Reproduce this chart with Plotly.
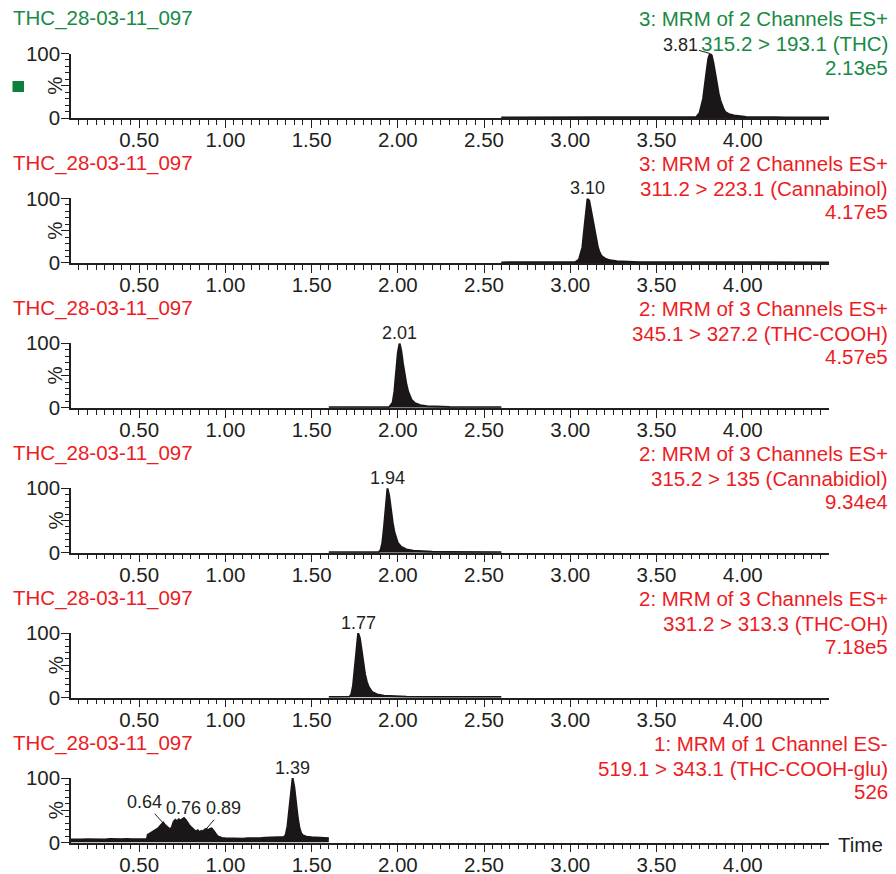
import plotly.graph_objects as go

# ---------------- data ----------------
sample_name = "THC_28-03-11_097"
function_headers = [
    "3: MRM of 2 Channels ES+",
    "3: MRM of 2 Channels ES+",
    "2: MRM of 3 Channels ES+",
    "2: MRM of 3 Channels ES+",
    "2: MRM of 3 Channels ES+",
    "1: MRM of 1 Channel ES-",
]
transitions = [
    "315.2 > 193.1 (THC)",
    "311.2 > 223.1 (Cannabinol)",
    "345.1 > 327.2 (THC-COOH)",
    "315.2 > 135 (Cannabidiol)",
    "331.2 > 313.3 (THC-OH)",
    "519.1 > 343.1 (THC-COOH-glu)",
]
max_intensity = ["2.13e5", "4.17e5", "4.57e5", "9.34e4", "7.18e5", "526"]

x_tick_values = [0.25, 0.50, 0.75, 1.00, 1.25, 1.50, 1.75, 2.00, 2.25, 2.50,
                 2.75, 3.00, 3.25, 3.50, 3.75, 4.00, 4.25]
x_tick_labels = ["", "0.50", "", "1.00", "", "1.50", "", "2.00", "", "2.50",
                 "", "3.00", "", "3.50", "", "4.00", ""]
y_tick_values = [0, 50, 100]
y_tick_labels = ["0", "", "100"]

# THC (panel 1)
thc_time = [2.60, 3.00, 3.50, 3.70, 3.73, 3.75, 3.77, 3.79, 3.80, 3.81, 3.82, 3.83,
            3.84, 3.85, 3.86, 3.87, 3.88, 3.89, 3.90, 3.92, 3.95, 3.98, 4.02, 4.08,
            4.12, 4.15, 4.18, 4.25, 4.50]
thc_pct = [0.8, 0.8, 0.9, 1.0, 1.5, 8, 30, 72, 92, 100, 97, 85,
           68, 52, 38, 27, 19, 13, 9, 6, 4, 2.5, 1.6, 1.1,
           1.3, 1.9, 1.1, 0.9, 0.8]

# Cannabinol (panel 2)
cbn_time = [2.60, 3.00, 3.03, 3.05, 3.07, 3.08, 3.09, 3.10, 3.11, 3.12, 3.13, 3.14,
            3.15, 3.16, 3.17, 3.18, 3.20, 3.23, 3.27, 3.32, 3.40, 3.60, 4.50]
cbn_pct = [0.8, 0.9, 1.2, 5, 24, 50, 82, 100, 96, 82, 64, 48,
           35, 24, 16, 11, 7, 4, 2.5, 1.6, 1.1, 0.9, 0.8]

# THC-COOH (panel 3)
cooh_time = [1.60, 1.90, 1.95, 1.97, 1.98, 1.99, 2.00, 2.01, 2.02, 2.03, 2.04, 2.05,
             2.06, 2.07, 2.08, 2.10, 2.13, 2.17, 2.22, 2.30, 2.40, 2.60]
cooh_pct = [0.8, 0.9, 1.2, 8, 25, 55, 85, 100, 88, 68, 50, 36,
            25, 17, 12, 7, 4, 2.5, 1.6, 1.2, 0.9, 0.8]

# Cannabidiol (panel 4)
cbd_time = [1.60, 1.85, 1.89, 1.90, 1.91, 1.92, 1.93, 1.94, 1.95, 1.96, 1.97, 1.98,
            1.99, 2.00, 2.02, 2.05, 2.09, 2.14, 2.20, 2.30, 2.60]
cbd_pct = [0.8, 0.9, 1.2, 4, 15, 40, 75, 100, 88, 66, 47, 32,
           22, 15, 9, 5, 3, 2, 1.4, 1.0, 0.8]

# THC-OH (panel 5)
oh_time = [1.60, 1.70, 1.72, 1.73, 1.74, 1.75, 1.76, 1.77, 1.78, 1.79, 1.80, 1.81,
           1.82, 1.83, 1.85, 1.88, 1.92, 1.97, 2.05, 2.20, 2.60]
oh_pct = [0.8, 0.9, 1.2, 5, 18, 45, 80, 100, 92, 72, 52, 36,
          25, 17, 9, 5, 3, 2, 1.4, 1.0, 0.8]

# THC-COOH-glu (panel 6)
glu_time = [0.105, 0.13, 0.16, 0.20, 0.23, 0.26, 0.30, 0.33, 0.36, 0.40, 0.43, 0.46,
            0.50, 0.53, 0.545, 0.55, 0.57, 0.59, 0.61, 0.63, 0.64, 0.65, 0.66, 0.67,
            0.68, 0.69, 0.70, 0.71, 0.72, 0.73, 0.74, 0.75, 0.76, 0.77, 0.78, 0.79,
            0.80, 0.81, 0.82, 0.83, 0.84, 0.85, 0.86, 0.87, 0.88, 0.89, 0.90, 0.91,
            0.92, 0.93, 0.94, 0.95, 0.96, 0.98, 1.00, 1.03, 1.06, 1.10, 1.13, 1.16,
            1.20, 1.23, 1.25, 1.28, 1.30, 1.33, 1.34, 1.35, 1.36, 1.37, 1.38, 1.39,
            1.40, 1.41, 1.42, 1.43, 1.44, 1.45, 1.47, 1.50, 1.53, 1.56, 1.60]
glu_pct = [4.5, 5.0, 4.6, 5.2, 4.8, 5.1, 4.7, 5.3, 4.8, 5.0, 5.6, 4.9,
           5.2, 5.0, 5.0, 12, 15, 18, 22, 28, 31, 27, 25, 22,
           20, 24, 32, 35, 33, 36, 34, 36, 38, 35, 30, 27,
           24, 21, 19, 17, 19, 16, 18, 17, 20, 21, 19, 21,
           22, 19, 14, 11, 9, 7, 6.5, 6.0, 6.5, 6.0, 6.6, 6.2,
           6.5, 7.2, 7.5, 8.0, 8.2, 8.5, 8.5, 12, 25, 50, 80, 100,
           85, 60, 38, 22, 14, 11, 9, 8, 7.5, 7, 6.5]

series_time = [thc_time, cbn_time, cooh_time, cbd_time, oh_time, glu_time]
series_pct = [thc_pct, cbn_pct, cooh_pct, cbd_pct, oh_pct, glu_pct]

# peak labels: (panel, time, value, text, ax, ay, arrow)
peak_labels = [
    (0, 3.81, 100, "3.81", -30, -8.5, True),
    (1, 3.10, 100, "3.10", 0, 0, False),
    (2, 2.01, 100, "2.01", 0, 0, False),
    (3, 1.94, 100, "1.94", 0, 0, False),
    (4, 1.77, 100, "1.77", 0, 0, False),
    (5, 1.39, 100, "1.39", 0, 0, False),
    (5, 0.64, 30, "0.64", -19, -21, True),
    (5, 0.76, 38, "0.76", 0, 0, False),
    (5, 0.88, 18, "0.89", 19, -22.5, True),
]

# ---------------- styling ----------------
W, H = 896, 874
FONT = "Liberation Sans, Arial, Helvetica, sans-serif"
FS = 20.5
INK = "#231f20"
GREEN = "#178a45"
RED = "#ed1c24"
header_colors = [GREEN, RED, RED, RED, RED, RED]

X_LEFT, X_RIGHT = 71, 829
TOP0, PANEL_H, PERIOD = 53.5, 64.5, 144.9

minor_x = [round(k * 0.05, 2) for k in range(3, 90)]
minor_y = [10, 20, 30, 40, 60, 70, 80, 90]

fig = go.Figure()
annotations = []
layout = {}

for i in range(6):
    n = "" if i == 0 else str(i + 1)
    top_px = TOP0 + PERIOD * i
    bot_px = top_px + PANEL_H
    fig.add_trace(go.Scatter(
        x=series_time[i], y=series_pct[i],
        xaxis="x" + n, yaxis="y" + n,
        mode="lines", fill="tozeroy",
        line=dict(color="#1b1718", width=2),
        fillcolor="#1b1718", hoverinfo="skip", showlegend=False,
    ))
    layout["xaxis" + n] = dict(
        domain=[X_LEFT / W, X_RIGHT / W], anchor="y" + n, automargin=False,
        range=[0.105, 4.50], showgrid=False, zeroline=False,
        showline=True, linecolor=INK, linewidth=1.5,
        tickmode="array", tickvals=x_tick_values, ticktext=x_tick_labels,
        ticks="outside", ticklen=8, tickwidth=1.2, tickcolor=INK,
        ticklabelstandoff=-5,
        tickfont=dict(family=FONT, size=FS, color=INK),
        minor=dict(tickmode="array", tickvals=minor_x, ticks="outside",
                   ticklen=5, tickwidth=1.1, tickcolor=INK),
        fixedrange=True,
    )
    layout["yaxis" + n] = dict(
        domain=[1 - bot_px / H, 1 - top_px / H], anchor="x" + n, automargin=False,
        range=[0, 100], showgrid=False, zeroline=False,
        showline=True, linecolor=INK, linewidth=1.5,
        tickmode="array", tickvals=y_tick_values, ticktext=y_tick_labels,
        ticks="outside", ticklen=8, tickwidth=1.2, tickcolor=INK,
        ticklabelstandoff=-3,
        tickfont=dict(family=FONT, size=FS, color=INK),
        minor=dict(tickmode="array", tickvals=minor_y, ticks="outside",
                   ticklen=4, tickwidth=1.1, tickcolor=INK),
        fixedrange=True,
    )
    # titles
    annotations.append(dict(
        text=sample_name, xref="paper", yref="paper",
        x=11 / W, y=1 - (top_px - 35) / H, xanchor="left", yanchor="middle",
        showarrow=False, font=dict(family=FONT, size=FS, color=header_colors[i]),
    ))
    for text, off in [(function_headers[i], -35), (transitions[i], -9.5), (max_intensity[i], 13.5)]:
        annotations.append(dict(
            text=text, xref="paper", yref="paper",
            x=890 / W, y=1 - (top_px + off) / H, xanchor="right", yanchor="middle",
            showarrow=False, font=dict(family=FONT, size=FS, color=header_colors[i]),
        ))
    # % label
    annotations.append(dict(
        text="%", xref="paper", yref="y" + n + " domain",
        x=55 / W, y=0.5, xanchor="center", yanchor="middle", textangle=-90,
        showarrow=False, font=dict(family=FONT, size=FS, color=INK),
    ))

for (p, t, v, txt, ax, ay, arrow) in peak_labels:
    n = "" if p == 0 else str(p + 1)
    if arrow:
        annotations.append(dict(
            text=txt, x=t, y=v, xref="x" + n, yref="y" + n,
            showarrow=True, arrowhead=0, arrowwidth=1, arrowcolor=INK,
            ax=ax, ay=ay, axref="pixel", ayref="pixel", standoff=0,
            xanchor="center", yanchor="middle",
            font=dict(family=FONT, size=18, color=INK),
        ))
    else:
        annotations.append(dict(
            text=txt, x=t, y=v, xref="x" + n, yref="y" + n,
            showarrow=False, xanchor="center", yanchor="middle", yshift=10,
            font=dict(family=FONT, size=18, color=INK),
        ))

annotations.append(dict(
    text="Time", xref="paper", yref="paper",
    x=836 / W, y=1 - 844 / H, xanchor="left", yanchor="middle",
    showarrow=False, font=dict(family=FONT, size=FS, color=INK),
))

shapes = [dict(type="rect", xref="paper", yref="paper",
               x0=12.5 / W, x1=24 / W, y0=1 - 92 / H, y1=1 - 81 / H,
               fillcolor="#0f7f3d", line=dict(width=0))]

fig.update_layout(
    width=W, height=H, margin=dict(l=0, r=0, t=0, b=0, autoexpand=False),
    paper_bgcolor="white", plot_bgcolor="white",
    showlegend=False, annotations=annotations, shapes=shapes,
    font=dict(family=FONT, color=INK),
    **layout,
)

fig.write_html(
    "out.html",
    config={"displayModeBar": False},
    post_script="document.body.style.margin='0';document.body.style.overflow='hidden';",
)
